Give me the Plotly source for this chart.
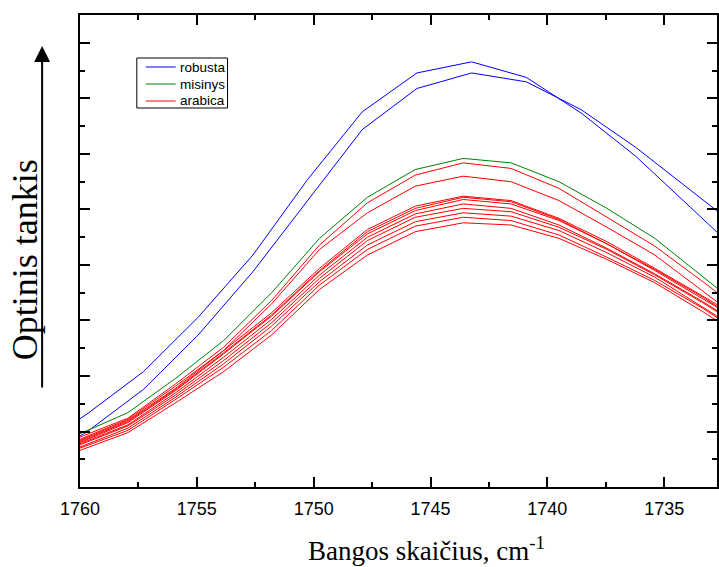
import plotly.graph_objects as go

# wavenumbers (cm-1)
wn_robusta = [1761.96, 1759.62, 1757.28, 1754.94, 1752.60, 1750.26, 1747.92,
              1745.58, 1743.24, 1740.90, 1738.56, 1736.22, 1733.88, 1731.54]
wn_other = [1760.00, 1757.95, 1755.90, 1753.85, 1751.80, 1749.75, 1747.70, 1745.65,
            1743.60, 1741.55, 1739.50, 1737.45, 1735.40, 1733.35, 1731.30]

robusta = [
    [0.333, 0.367, 0.404, 0.453, 0.509, 0.577, 0.638, 0.673, 0.683, 0.669, 0.637, 0.598, 0.552, 0.506],
    [0.319, 0.351, 0.388, 0.437, 0.494, 0.558, 0.622, 0.659, 0.673, 0.665, 0.640, 0.606, 0.568, 0.529],
]
misinys = [0.348, 0.367, 0.398, 0.432, 0.475, 0.524, 0.561, 0.586, 0.596, 0.592, 0.575, 0.551, 0.524, 0.489, 0.455]
arabica = [
    [0.345, 0.362, 0.393, 0.426, 0.468, 0.518, 0.556, 0.581, 0.592, 0.587, 0.569, 0.543, 0.517, 0.485, 0.452],
    [0.343, 0.361, 0.391, 0.423, 0.465, 0.514, 0.547, 0.571, 0.580, 0.575, 0.558, 0.534, 0.509, 0.477, 0.444],
    [0.342, 0.360, 0.389, 0.423, 0.457, 0.497, 0.532, 0.553, 0.562, 0.558, 0.542, 0.521, 0.497, 0.472, 0.446],
    [0.341, 0.359, 0.388, 0.421, 0.455, 0.495, 0.530, 0.551, 0.561, 0.557, 0.541, 0.519, 0.495, 0.470, 0.444],
    [0.340, 0.358, 0.387, 0.420, 0.454, 0.494, 0.528, 0.549, 0.559, 0.555, 0.540, 0.519, 0.496, 0.471, 0.443],
    [0.339, 0.356, 0.385, 0.417, 0.451, 0.491, 0.525, 0.546, 0.555, 0.551, 0.536, 0.515, 0.492, 0.467, 0.440],
    [0.338, 0.355, 0.383, 0.414, 0.448, 0.488, 0.522, 0.543, 0.551, 0.548, 0.534, 0.514, 0.491, 0.466, 0.439],
    [0.336, 0.353, 0.381, 0.411, 0.445, 0.485, 0.518, 0.539, 0.547, 0.544, 0.531, 0.511, 0.489, 0.462, 0.435],
    [0.335, 0.351, 0.379, 0.408, 0.441, 0.482, 0.514, 0.535, 0.543, 0.540, 0.527, 0.507, 0.486, 0.461, 0.433],
    [0.333, 0.349, 0.376, 0.404, 0.437, 0.478, 0.509, 0.530, 0.538, 0.536, 0.524, 0.505, 0.484, 0.458, 0.430],
]

legend_names = ["robusta", "misinys", "arabica"]
legend_colors = ["#0000FF", "#008000", "#FF0000"]

fig = go.Figure()
for ys in robusta:
    fig.add_trace(go.Scatter(x=wn_robusta, y=ys, mode="lines", name="robusta",
                             line=dict(color=legend_colors[0], width=1), showlegend=False))
fig.add_trace(go.Scatter(x=wn_other, y=misinys, mode="lines", name="misinys",
                         line=dict(color=legend_colors[1], width=1), showlegend=False))
for ys in arabica:
    fig.add_trace(go.Scatter(x=wn_other, y=ys, mode="lines", name="arabica",
                             line=dict(color=legend_colors[2], width=1), showlegend=False))

fig.update_xaxes(range=[1760.0, 1732.74], tickmode="linear", tick0=1760, dtick=5,
                 ticks="inside", ticklen=10, tickwidth=2, tickcolor="black",
                 minor=dict(dtick=2.5, ticks="inside", ticklen=5, tickwidth=2, tickcolor="black"),
                 showline=True, linewidth=2, linecolor="black", mirror="ticks",
                 showgrid=False, zeroline=False, ticklabelstandoff=4,
                 tickfont=dict(family="Liberation Sans, Arial", size=18, color="black"))
fig.update_yaxes(range=[0.30, 0.7252], tickmode="linear", tick0=0.30, dtick=0.05,
                 ticks="inside", ticklen=10, tickwidth=2, tickcolor="black",
                 minor=dict(dtick=0.025, ticks="inside", ticklen=5, tickwidth=2, tickcolor="black"),
                 showline=True, linewidth=2, linecolor="black", mirror="ticks",
                 showgrid=False, zeroline=False, showticklabels=False)

# titles
fig.add_annotation(text="Bangos skaičius, cm<sup>-1</sup>", xref="paper", yref="paper",
                   x=(428 - 80) / 639, y=-(549 - 487) / 472, xanchor="center", yanchor="middle",
                   showarrow=False, font=dict(family="Liberation Serif, Times New Roman", size=27, color="black"))
fig.add_annotation(text="Optinis tankis", xref="paper", yref="paper", textangle=-90,
                   x=-(80 - 25) / 639, y=(487 - 260) / 472, xanchor="center", yanchor="middle",
                   showarrow=False, font=dict(family="Liberation Serif, Times New Roman", size=36, color="black"))
fig.add_annotation(text="", xref="paper", yref="paper", x=-(80 - 42) / 639, y=(487 - 46) / 472,
                   ax=0, ay=343, showarrow=True, arrowhead=2, arrowwidth=2, arrowsize=1.6,
                   arrowcolor="black", standoff=0)

# legend box (drawn to match the compact original legend)
def px(xp):
    return (xp - 80) / 639

def py(yp):
    return (487 - yp) / 472

fig.add_shape(type="rect", xref="paper", yref="paper", x0=px(137), x1=px(228), y0=py(58), y1=py(108),
              line=dict(color="black", width=1), fillcolor="white", layer="above")
for i, (nm, col) in enumerate(zip(legend_names, legend_colors)):
    yy = 67 + 17 * i
    fig.add_shape(type="line", xref="paper", yref="paper", x0=px(146), x1=px(176), y0=py(yy), y1=py(yy),
                  line=dict(color=col, width=1), layer="above")
    fig.add_annotation(text=nm, xref="paper", yref="paper", x=px(178), y=py(yy),
                       xanchor="left", yanchor="middle", showarrow=False,
                       font=dict(family="Liberation Sans, Arial", size=13.5, color="black"))

fig.update_layout(width=719, height=567, margin=dict(l=80, r=0, t=15, b=80),
                  paper_bgcolor="white", plot_bgcolor="white", showlegend=False)

fig.write_html("out.html")
